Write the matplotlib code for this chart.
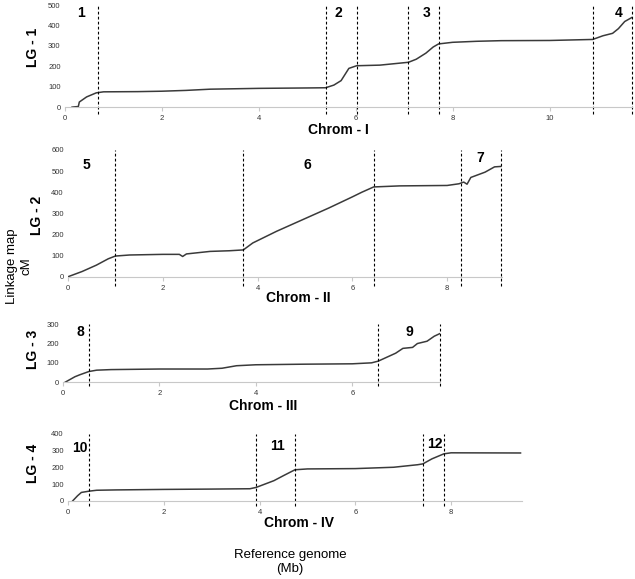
import matplotlib
matplotlib.use("Agg")
import matplotlib.pyplot as plt

plt.rcParams['font.family'] = ['Liberation Sans', 'DejaVu Sans']

# ---- data (Mb on chromosome, cM on linkage group) ----
lg1_mb = [0.15, 0.28, 0.30, 0.45, 0.65, 0.80, 1.5, 2.0, 2.5, 3.0, 4.0, 5.0, 5.38, 5.55, 5.70, 5.86, 6.02, 6.5, 7.09, 7.25, 7.45, 7.6, 7.71, 8.0, 8.5, 9.0, 10.0, 10.89, 11.1, 11.3, 11.42, 11.55, 11.7]
lg1_cm = [0, 3, 25, 50, 70, 75, 76, 78, 82, 88, 92, 94, 95, 108, 130, 190, 203, 206, 220, 235, 265, 295, 310, 318, 323, 326, 327, 332, 350, 362, 385, 420, 440]
lg1_bounds = [0.68, 5.38, 6.02, 7.09, 7.71, 10.89, 11.71]
lg1_tags = ["1", "2", "3", "4"]
lg1_tag_x = [0.33, 5.65, 7.47, 11.42]

lg2_mb = [0.0, 0.3, 0.6, 0.85, 1.0, 1.3, 2.0, 2.35, 2.42, 2.5, 3.0, 3.4, 3.7, 3.9, 4.4, 4.9, 5.5, 6.0, 6.2, 6.45, 7.0, 8.0, 8.25, 8.35, 8.42, 8.5, 8.8, 9.0, 9.13]
lg2_cm = [0, 25, 55, 85, 98, 103, 106, 106, 96, 108, 120, 123, 127, 160, 215, 265, 325, 378, 400, 425, 430, 432, 440, 448, 438, 470, 495, 520, 522]
lg2_bounds = [1.0, 3.7, 6.45, 8.3, 9.13]
lg2_tags = ["5", "6", "7"]
lg2_tag_x = [0.4, 5.06, 8.7]

lg3_mb = [0.05, 0.25, 0.35, 0.54, 0.7, 1.0, 2.0, 3.0, 3.3, 3.6, 4.0, 5.0, 6.0, 6.4, 6.54, 6.9, 7.05, 7.25, 7.35, 7.55, 7.7, 7.82]
lg3_cm = [0, 28, 38, 55, 62, 65, 68, 68, 72, 85, 90, 93, 95, 100, 109, 150, 175, 180, 200, 212, 238, 252]
lg3_bounds = [0.54, 6.54, 7.82]
lg3_tags = ["8", "9"]
lg3_tag_x = [0.37, 7.18]

lg4_mb = [0.1, 0.2, 0.28, 0.45, 0.6, 1.0, 2.0, 3.0, 3.8, 3.93, 4.3, 4.5, 4.74, 5.0, 6.0, 6.8, 7.3, 7.41, 7.6, 7.85, 8.0, 9.45]
lg4_cm = [0, 30, 50, 58, 63, 65, 68, 70, 72, 80, 120, 150, 185, 190, 192, 200, 215, 220, 250, 280, 286, 285]
lg4_bounds = [0.45, 3.93, 4.74, 7.41, 7.85]
lg4_tags = ["10", "11", "12"]
lg4_tag_x = [0.25, 4.38, 7.66]

panels = [
    # axes rect, xlim, ymax, ystep, data, bounds, tags, tag_x, tag_y, lg label, chrom label, label pixel spots
    ([0.102, 0.815, 0.894, 0.176], 11.71, 500, 100, lg1_mb, lg1_cm, lg1_bounds, lg1_tags, lg1_tag_x, [0.92] * 4, "LG - 1", "Chrom - I", (338, 130), (33, 47)),
    ([0.107, 0.522, 0.683, 0.219], 9.15, 600, 100, lg2_mb, lg2_cm, lg2_bounds, lg2_tags, lg2_tag_x, [0.88, 0.88, 0.94], "LG - 2", "Chrom - II", (298, 298), (37, 215)),
    ([0.099, 0.340, 0.594, 0.100], 7.82, 300, 100, lg3_mb, lg3_cm, lg3_bounds, lg3_tags, lg3_tag_x, [0.86, 0.86], "LG - 3", "Chrom - III", (263, 406), (33, 349)),
    ([0.107, 0.135, 0.715, 0.116], 9.48, 400, 100, lg4_mb, lg4_cm, lg4_bounds, lg4_tags, lg4_tag_x, [0.78, 0.82, 0.84], "LG - 4", "Chrom - IV", (299, 523), (33, 463)),
]

W, H = 635, 579
fig = plt.figure(figsize=(W / 100, H / 100), dpi=100)

for rect, xmax, ymax, ystep, xs, ys, bounds, tags, tag_x, tag_y, lg, chrom, cpos, lpos in panels:
    ax = fig.add_axes(rect)
    ax.plot(xs, ys, color='#3a3a3a', lw=1.1)
    for b in bounds:
        ax.axvline(b, ymin=-0.07, ymax=1.0, color='black', lw=0.8, ls=(0, (2.5, 2)), clip_on=False)
    for t, tx, ty in zip(tags, tag_x, tag_y):
        ax.text(tx, ty, t, transform=ax.get_xaxis_transform(), ha='center', va='center',
                fontsize=10, fontweight='bold')
    ax.set_xlim(0, xmax)
    ax.set_ylim(0, ymax)
    ax.set_xticks(range(0, int(xmax) + 1, 2))
    ax.set_yticks(range(0, ymax + 1, ystep))
    for s in ['top', 'right', 'left']:
        ax.spines[s].set_visible(False)
    ax.spines['bottom'].set_color('#c8c8c8')
    ax.tick_params(axis='x', labelsize=5.5, colors='#c8c8c8', labelcolor='#333333', length=3, pad=3)
    ax.tick_params(axis='y', labelsize=5.5, length=0, labelcolor='#333333', pad=3)
    ax.patch.set_alpha(0)
    fig.text(cpos[0] / W, 1 - cpos[1] / H, chrom, ha='center', va='center', fontsize=10, fontweight='bold')
    fig.text(lpos[0] / W, 1 - lpos[1] / H, lg, ha='center', va='center', fontsize=10,
             fontweight='bold', rotation=90)

fig.text(19 / W, 1 - 266 / H, "Linkage map\ncM", ha='center', va='center', fontsize=9.5,
         rotation=90, linespacing=1.25, multialignment='center')
fig.text(290 / W, 1 - 562 / H, "Reference genome\n(Mb)", ha='center', va='center', fontsize=9.5,
         linespacing=1.3)

fig.savefig("out.png", dpi=100)
